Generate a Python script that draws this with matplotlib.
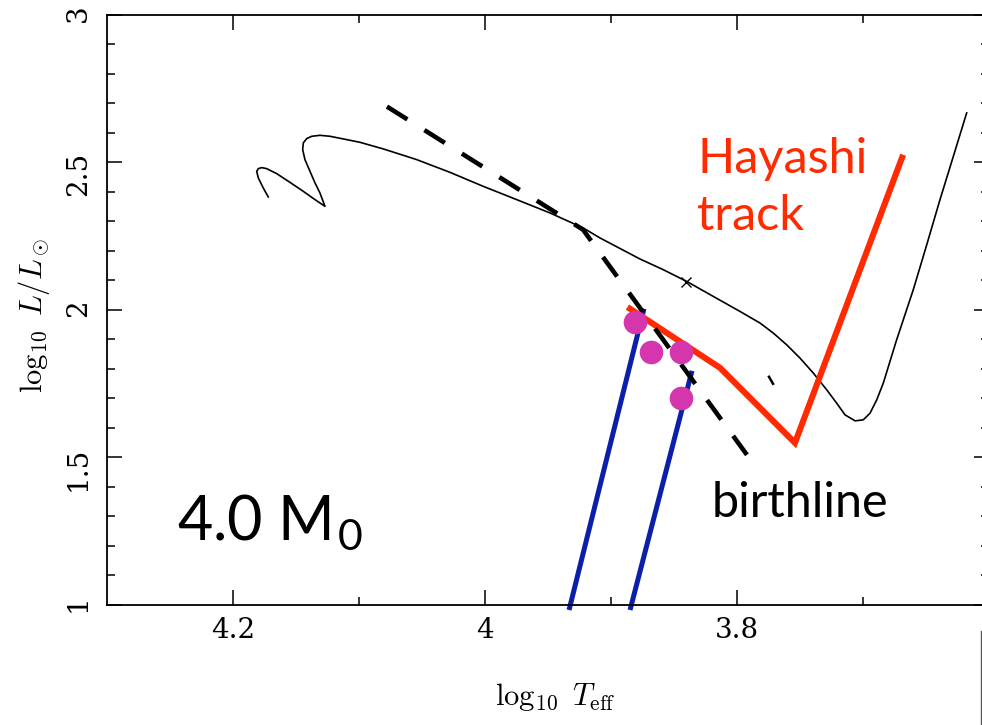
import numpy as np
import matplotlib as mpl
mpl.use('Agg')
import matplotlib.pyplot as plt
from matplotlib.lines import Line2D

# evolutionary track (thin black line), log Teff / log L
track_x = [4.1720, 4.1760, 4.1799, 4.1812, 4.1799, 4.1772, 4.1733, 4.1653,
           4.1548, 4.1442, 4.1349, 4.1270, 4.1310, 4.1349, 4.1389, 4.1429,
           4.1447, 4.1442, 4.1415, 4.1375, 4.1310, 4.1230, 4.1125, 4.0992,
           4.0807, 4.0542, 4.0278, 4.0014, 3.9748, 3.9484, 3.9220, 3.9087,
           3.8770, 3.8585, 3.8399, 3.8188, 3.7976, 3.7817, 3.7712, 3.7606,
           3.7500, 3.7394, 3.7288, 3.7209, 3.7143, 3.7063, 3.6998, 3.6944,
           3.6891, 3.6839, 3.6733, 3.6601, 3.6494, 3.6389, 3.6283, 3.6177]
track_y = [2.3820, 2.4125, 2.4464, 2.4688, 2.4780, 2.4814, 2.4780, 2.4610,
           2.4315, 2.4010, 2.3729, 2.3502, 2.3956, 2.4295, 2.4688, 2.5085,
           2.5424, 2.5651, 2.5797, 2.5875, 2.5908, 2.5875, 2.5786, 2.5671,
           2.5447, 2.5085, 2.4654, 2.4180, 2.3729, 2.3278, 2.2769, 2.2431,
           2.1719, 2.1356, 2.0959, 2.0451, 1.9942, 1.9549, 1.9210, 1.8814,
           1.8363, 1.7854, 1.7288, 1.6837, 1.6441, 1.6237, 1.6271, 1.6498,
           1.6949, 1.7515, 1.8983, 2.0678, 2.2203, 2.3729, 2.5197, 2.6668]
cross_x, cross_y = [3.8405], [2.0949]
stub_x = [3.7746, 3.7714]
stub_y = [1.7729, 1.7492]

# birthline (dashed)
birth_x = [4.0778, 3.9222, 3.7921]
birth_y = [2.6881, 2.2712, 1.5085]

# Hayashi track (red)
hay_x = [3.8849, 3.8135, 3.7540, 3.6690]
hay_y = [2.0034, 1.8034, 1.5492, 2.5153]

# blue tracks
blue1_x = [3.9333, 3.8738]
blue1_y = [0.983, 2.0034]
blue2_x = [3.8849, 3.8357]
blue2_y = [0.983, 1.7932]

# magenta points
dot_x = [3.8810, 3.8683, 3.8444, 3.8444]
dot_y = [1.9593, 1.8576, 1.8576, 1.7017]

mpl.rcParams['mathtext.fontset'] = 'cm'

fig = plt.figure(figsize=(9.82, 7.25), dpi=100)
ax = fig.add_axes([0.10896, 0.16552, 0.89817, 0.81448])

ax.plot(track_x, track_y, color='black', lw=1.2, solid_joinstyle='round')
ax.plot(cross_x, cross_y, marker='x', color='black', ms=7, mew=1.0, ls='none')
ax.plot(stub_x, stub_y, color='black', lw=1.8)

ax.plot(blue1_x, blue1_y, color='#0b1faa', lw=3.6, clip_on=False, solid_capstyle='butt')
ax.plot(blue2_x, blue2_y, color='#0b1faa', lw=3.6, clip_on=False, solid_capstyle='butt')
ax.plot(hay_x, hay_y, color='#ff2a00', lw=4.4, solid_joinstyle='miter')
ax.plot(birth_x, birth_y, color='black', lw=3.3, ls=(0, (5.25, 4.4)))
ax.plot(dot_x, dot_y, 'o', color='#d535ad', ms=17, mew=0, zorder=5)

ax.set_xlim(4.3, 3.6)
ax.set_ylim(1, 3)
ax.set_xticks([4.2, 4.0, 3.8])
ax.set_xticklabels(['4.2', '4', '3.8'])
ax.set_xticks(np.arange(3.7, 4.3, 0.1), minor=True)
ax.set_yticks([1, 1.5, 2, 2.5, 3])
ax.set_yticklabels(['1', '1.5', '2', '2.5', '3'])
ax.set_yticks(np.arange(1.1, 3.0, 0.1), minor=True)

ax.tick_params(which='both', direction='in', top=True, right=True, width=1.1, color='black')
ax.tick_params(which='major', length=10.8)
ax.tick_params(which='minor', length=5.8)
ax.tick_params(axis='x', pad=9, labelsize=20)
ax.tick_params(axis='y', pad=11, labelsize=20, labelrotation=90)
for lab in ax.get_xticklabels() + ax.get_yticklabels():
    lab.set_family('DejaVu Serif')
for sp in ax.spines.values():
    sp.set_linewidth(1.3)

ax.set_xlabel(r'$\log_{10}\ T_{\rm eff}$', fontsize=22)
ax.xaxis.set_label_coords(0.508, -0.128)
ax.set_ylabel(r'$\log_{10}\ L/L_\odot$', fontsize=22)
ax.yaxis.set_label_coords(-0.062, 0.49)

ax.text(4.2444, 1.2203, r'4.0 M$_{\mathregular{0}}$', fontsize=44, family='Lato',
        ha='left', va='baseline')
ax.text(3.8198, 1.2983, 'birthline', fontsize=35, family='Lato', ha='left', va='baseline')
ax.text(3.8317, 2.4644, 'Hayashi', fontsize=35, family='Lato', color='#ff2a00',
        ha='left', va='baseline')
ax.text(3.8317, 2.2712, 'track', fontsize=35, family='Lato', color='#ff2a00',
        ha='left', va='baseline')

# edge of the neighbouring panel visible at the bottom right
fig.add_artist(Line2D([981 / 982, 981 / 982], [0, 94 / 725], transform=fig.transFigure,
                      color='#555555', lw=1.0))

fig.savefig('out.png', dpi=100)
